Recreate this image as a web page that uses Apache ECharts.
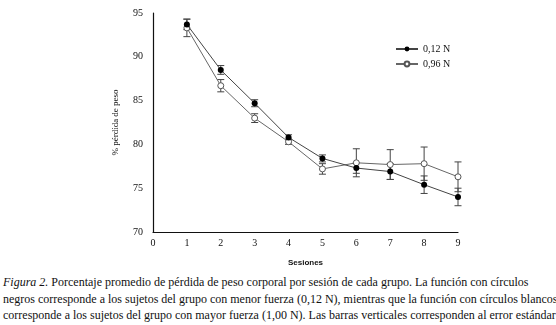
<!DOCTYPE html>
<html>
<head>
<meta charset="utf-8">
<script src="https://cdn.jsdelivr.net/npm/echarts@6/dist/echarts.min.js"></script>
<style>
  body { margin: 0; background: #fff; }
  #chart { width: 556px; height: 266px; }
  #caption {
    font-family: "Liberation Serif", serif;
    font-size: 12px;
    line-height: 16.5px;
    color: #111;
    padding: 8px 0 0 3px;
    white-space: nowrap;
  }
</style>
</head>
<body>
<div id="chart"></div>
<div id="caption"><i>Figura 2.</i> Porcentaje promedio de pérdida de peso corporal por sesión de cada grupo. La función con círculos<br>negros corresponde a los sujetos del grupo con menor fuerza (0,12 N), mientras que la función con círculos blancos<br>corresponde a los sujetos del grupo con mayor fuerza (1,00 N). Las barras verticales corresponden al error estándar</div>
<script>
let sesiones = [1, 2, 3, 4, 5, 6, 7, 8, 9]
let bajaFuerza = [93.7, 88.5, 84.7, 80.8, 78.4, 77.3, 76.9, 75.4, 74.0]
let bajaError = [0.6, 0.5, 0.4, 0.3, 0.4, 0.6, 0.9, 1.0, 1.0]
let altaFuerza = [93.3, 86.7, 83.0, 80.3, 77.2, 77.9, 77.7, 77.8, 76.3]
let altaError = [1.0, 0.7, 0.5, 0.3, 0.6, 1.6, 1.7, 1.9, 1.7]
let xTicks = [0, 1, 2, 3, 4, 5, 6, 7, 8, 9]
let yTicks = [70, 75, 80, 85, 90, 95]

let chart = echarts.init(document.getElementById('chart'))

function errorData(vals, errs) {
  return sesiones.map((s, i) => [s, vals[i] - errs[i], vals[i] + errs[i]])
}

function errorBars(params, api) {
  let x = api.value(0)
  let lo = api.coord([x, api.value(1)])
  let hi = api.coord([x, api.value(2)])
  let w = 3.5
  let style = { stroke: '#444', lineWidth: 1 }
  return {
    type: 'group',
    children: [
      { type: 'line', shape: { x1: lo[0], y1: lo[1], x2: hi[0], y2: hi[1] }, style: style },
      { type: 'line', shape: { x1: lo[0] - w, y1: lo[1], x2: lo[0] + w, y2: lo[1] }, style: style },
      { type: 'line', shape: { x1: hi[0] - w, y1: hi[1], x2: hi[0] + w, y2: hi[1] }, style: style }
    ]
  }
}

let serif = '"Liberation Serif", serif'

chart.setOption({
  animation: false,
  grid: { left: 153, right: 98, top: 13, bottom: 34, outerBoundsMode: 'none', containLabel: false },
  legend: {
    orient: 'vertical',
    left: 390,
    top: 39,
    itemWidth: 22,
    itemHeight: 6,
    itemGap: 5,
    textStyle: { fontFamily: serif, fontSize: 10, color: '#111' },
    data: ['0,12 N', '0,96 N']
  },
  xAxis: {
    type: 'value',
    min: 0,
    max: 9,
    interval: 1,
    name: 'Sesiones',
    nameLocation: 'middle',
    nameGap: 27,
    nameTextStyle: { fontFamily: '"Liberation Sans Narrow", "Liberation Sans", sans-serif', fontSize: 8, fontWeight: 'bold', color: '#111' },
    axisLine: { lineStyle: { color: '#111', width: 1.2 } },
    axisTick: { show: false },
    splitLine: { show: false },
    axisLabel: {
      fontFamily: serif, fontSize: 10, color: '#111', margin: 6,
      formatter: v => xTicks.includes(v) ? String(v) : ''
    }
  },
  yAxis: {
    type: 'value',
    min: 70,
    max: 95,
    interval: 5,
    name: '% pérdida de peso',
    nameLocation: 'middle',
    nameGap: 33,
    nameRotate: 90,
    nameTextStyle: { fontFamily: serif, fontSize: 9, color: '#111' },
    axisLine: { show: true, lineStyle: { color: '#111', width: 1.2 } },
    axisTick: { show: false },
    splitLine: { show: false },
    axisLabel: {
      fontFamily: serif, fontSize: 10, color: '#111', margin: 10,
      formatter: v => yTicks.includes(v) ? String(v) : ''
    }
  },
  series: [
    {
      type: 'custom',
      name: 'err-alta',
      renderItem: errorBars,
      data: errorData(altaFuerza, altaError),
      z: 1,
      silent: true
    },
    {
      type: 'custom',
      name: 'err-baja',
      renderItem: errorBars,
      data: errorData(bajaFuerza, bajaError),
      z: 1,
      silent: true
    },
    {
      name: '0,12 N',
      type: 'line',
      data: sesiones.map((s, i) => [s, bajaFuerza[i]]),
      symbol: 'circle',
      symbolSize: 6,
      lineStyle: { color: '#444', width: 1 },
      itemStyle: { color: '#000' },
      z: 3
    },
    {
      name: '0,96 N',
      type: 'line',
      data: sesiones.map((s, i) => [s, altaFuerza[i]]),
      symbol: 'circle',
      symbolSize: 6,
      lineStyle: { color: '#666', width: 1 },
      itemStyle: { color: '#fff', borderColor: '#555', borderWidth: 1 },
      z: 2
    }
  ]
})
</script>
</body>
</html>
